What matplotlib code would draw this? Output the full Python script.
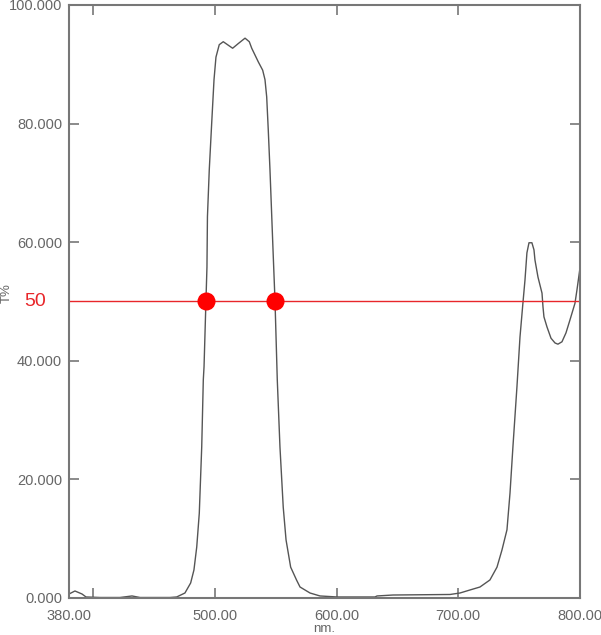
import matplotlib
matplotlib.use('Agg')
import matplotlib.pyplot as plt

plt.rcParams['font.family'] = ['Liberation Sans', 'DejaVu Sans']

# transmission curve
wl = [380.0, 384.9, 390.7, 394.0, 405.5, 421.9, 431.8, 438.4, 463.0, 468.5,
      475.3, 480.0, 482.7, 485.0, 487.1, 489.1, 490.4, 491.0, 492.6, 493.4,
      493.8, 495.3, 497.3, 499.2, 500.8, 503.5, 506.8, 514.5, 519.2, 524.7,
      528.2, 530.2, 535.6, 539.2, 541.1, 542.5, 543.8, 545.2, 547.7, 549.3,
      551.2, 553.4, 556.1, 558.4, 562.2, 567.1, 569.9, 578.1, 586.3, 600.3,
      631.5, 633.2, 646.3, 693.2, 701.4, 709.6, 717.8, 726.0, 731.8, 735.9,
      740.0, 742.5, 744.9, 748.2, 750.7, 753.1, 754.8, 756.4, 758.1, 760.5,
      762.2, 763.0, 765.5, 768.8, 769.6, 770.4, 772.9, 776.2, 779.5, 781.9,
      785.2, 788.5, 791.8, 795.9, 797.5, 800.0]
trans = [0.67, 1.18, 0.67, 0.17, 0.08, 0.08, 0.34, 0.08, 0.08, 0.17,
         0.84, 2.53, 4.72, 8.6, 14.3, 25.5, 36.8, 39.0, 50.3, 55.8,
         64.3, 72.2, 80.1, 87.4, 91.2, 93.3, 93.8, 92.7, 93.5, 94.4,
         93.8, 92.7, 90.4, 89.0, 87.4, 84.5, 78.9, 72.2, 58.7, 50.3,
         36.8, 25.5, 15.3, 9.8, 5.2, 3.0, 1.85, 0.84, 0.34, 0.17,
         0.17, 0.34, 0.5, 0.59, 0.84, 1.35, 1.85, 3.04, 5.2, 8.1,
         11.5, 17.7, 25.5, 35.6, 44.0, 49.7, 53.6, 58.2, 59.9, 59.9,
         58.7, 57.0, 54.1, 51.4, 49.1, 47.4, 45.7, 43.8, 43.0, 42.8,
         43.2, 44.7, 46.9, 49.7, 51.9, 55.6]

level = 50
cross_x = [492.6, 549.3]

xtick_vals = [380, 500, 600, 700, 800]
xtick_labels = ['380.00', '500.00', '600.00', '700.00', '800.00']
ytick_vals = [0, 20, 40, 60, 80, 100]
ytick_labels = ['0.000', '20.000', '40.000', '60.000', '80.000', '100.000']

grey = '#777777'
txt = '#666666'

fig = plt.figure(figsize=(6.01, 6.35), dpi=100)
ax = fig.add_axes([0.1148, 0.0583, 0.8502, 0.9339])

ax.plot(wl, trans, color='#555555', lw=1.0)
ax.axhline(level, color='#e8262a', lw=1.0)
ax.plot(cross_x, [level] * len(cross_x), 'o', color='#ff0000', ms=13, mec='none')

ax.set_xlim(380, 800)
ax.set_ylim(0, 100)
ax.set_xticks(xtick_vals)
ax.set_xticklabels(xtick_labels)
ax.set_xticks([400], minor=True)
ax.set_yticks(ytick_vals)
ax.set_yticklabels(ytick_labels)

ax.tick_params(which='both', direction='in', length=7, width=1.2, color=grey,
               top=True, right=True, labelsize=10.5, labelcolor=txt)
ax.tick_params(axis='x', pad=8)
ax.tick_params(axis='y', pad=5)
for s in ax.spines.values():
    s.set_color(grey)
    s.set_linewidth(1.5)

ax.set_xlabel('nm.', color=txt, fontsize=9.5, labelpad=0)
ax.text(-0.045, level, '50', transform=ax.get_yaxis_transform(), color='#e8262a',
        fontsize=14, ha='right', va='center')
fig.text(0.012, 0.538, 'T%', rotation=90, color=txt, fontsize=9.5, ha='center', va='center')

fig.savefig('out.png', dpi=100)
